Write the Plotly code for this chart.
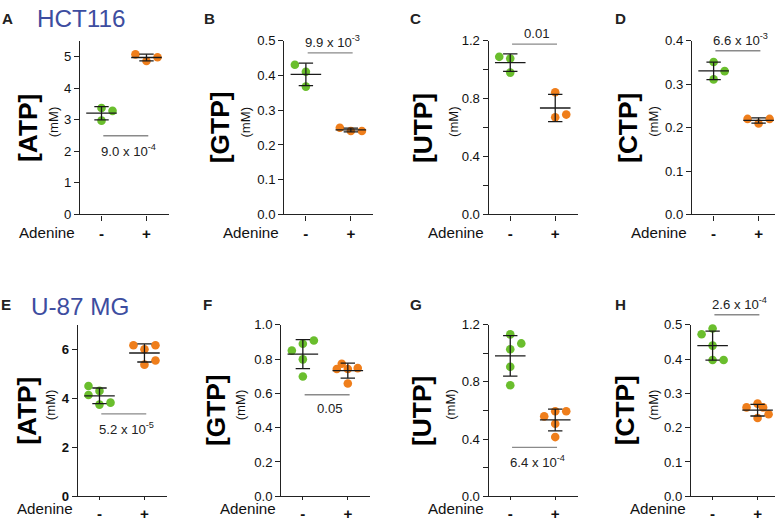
import numpy as np
import plotly.graph_objects as go

W, H = 775, 522
# visible extent of the figure in the photographed picture (measured), used to place panels
SX, SY = 766.0, 515.0
FS = W / SX  # font compensation

# ---------------- data (mM) ----------------
groups = ['-', '+']
treatment_label = 'Adenine'
cell_lines = ['HCT116', 'U-87 MG']
nucleotides = ['ATP', 'GTP', 'UTP', 'CTP', 'ATP', 'GTP', 'UTP', 'CTP']
panel_letters = ['A', 'B', 'C', 'D', 'E', 'F', 'G', 'H']

hct_atp_minus = [3.37, 3.28, 2.97]
hct_atp_plus = [5.07, 4.86, 4.98]
hct_gtp_minus = [0.431, 0.411, 0.368]
hct_gtp_plus = [0.2495, 0.240, 0.240]
hct_utp_minus = [1.089, 1.078, 0.980]
hct_utp_plus = [0.844, 0.690, 0.672]
hct_ctp_minus = [0.351, 0.330, 0.311]
hct_ctp_plus = [0.220, 0.220, 0.2095]

u87_atp_minus = [4.50, 4.30, 4.13, 3.74, 3.82]
u87_atp_plus = [6.16, 6.16, 6.00, 5.54, 5.37]
u87_gtp_minus = [0.849, 0.889, 0.908, 0.798, 0.698]
u87_gtp_plus = [0.772, 0.742, 0.742, 0.747, 0.657]
u87_utp_minus = [1.132, 1.069, 1.028, 0.906, 0.777]
u87_utp_plus = [0.559, 0.595, 0.595, 0.507, 0.414]
u87_ctp_minus = [0.472, 0.489, 0.439, 0.397, 0.397]
u87_ctp_plus = [0.259, 0.270, 0.259, 0.239, 0.228]

p_values = ['9.0 x 10<sup>-4</sup>', '9.9 x 10<sup>-3</sup>', '0.01', '6.6 x 10<sup>-3</sup>',
            '5.2 x 10<sup>-5</sup>', '0.05', '6.4 x 10<sup>-4</sup>', '2.6 x 10<sup>-4</sup>']

y_max = [5.5, 0.5, 1.2, 0.4, 7, 1.0, 1.2, 0.5]
y_tick_vals = [
    [0, 1, 2, 3, 4, 5],
    [0, 0.1, 0.2, 0.3, 0.4, 0.5],
    [0, 0.2, 0.4, 0.6, 0.8, 1.0, 1.2],
    [0, 0.1, 0.2, 0.3, 0.4],
    [0, 2, 4, 6],
    [0, 0.2, 0.4, 0.6, 0.8, 1.0],
    [0, 0.2, 0.4, 0.6, 0.8, 1.0, 1.2],
    [0, 0.1, 0.2, 0.3, 0.4, 0.5],
]
y_tick_text = [
    ['0', '1', '2', '3', '4', '5'],
    ['0.0', '0.1', '0.2', '0.3', '0.4', '0.5'],
    ['0.0', '', '0.4', '', '0.8', '', '1.2'],
    ['0.0', '0.1', '0.2', '0.3', '0.4'],
    ['0', '2', '4', '6'],
    ['0.0', '0.2', '0.4', '0.6', '0.8', '1.0'],
    ['0.0', '', '0.4', '', '0.8', '', '1.2'],
    ['0.0', '0.1', '0.2', '0.3', '0.4', '0.5'],
]

panel_data = [
    (hct_atp_minus, hct_atp_plus), (hct_gtp_minus, hct_gtp_plus),
    (hct_utp_minus, hct_utp_plus), (hct_ctp_minus, hct_ctp_plus),
    (u87_atp_minus, u87_atp_plus), (u87_gtp_minus, u87_gtp_plus),
    (u87_utp_minus, u87_utp_plus), (u87_ctp_minus, u87_ctp_plus),
]

# ---------------- layout / style (kept apart from data) ----------------
swarm_slots = [
    ([0, 1, 0], [-1, 0, 1]),
    ([-1, 0, 0], [-1, 0, 1]),
    ([-1, 0, 0], [0, 1, 0]),
    ([0, 1, 0], [-1, 1, 0]),
    ([-1, 0, -1, 0, 1], [-1, 1, 0, 1, 0]),
    ([-1, 0, 1, 0, 0], [-0.55, -1, 0, 0.9, 0]),
    ([0, 1, 0, 0, 0], [-1, 0, 1, 0, 0]),
    ([-1, 0, 0, 0, 1], [-1, 0, 0.5, 1, 0]),
]
slot_step = 0.245
sig_y = [2.49, 0.465, 1.177, 0.377, 3.36, 0.592, 0.342, 0.529]
sig_side = ['below', 'above', 'above', 'above', 'below', 'below', 'below', 'above']

colors = ['#6ABE2D', '#EF7E1B']
FONT = 'Liberation Sans, Arial, sans-serif'
AXC = '#222222'

x_left_px = [79, 281, 483, 684, 77, 278, 483, 683]
axis_w_px = 88
x_span = 1.98
rows_px = [(34.3, 210.7), (322.7, 497.0)]
row_ticklen = [5, 3]
title_x_px = [27, 217, 417.5, 620, 27, 214, 417.5, 618.5]
unit_x_px = [53, 243, 448, 646.5, 50, 238, 445, 646]
letter_x_px = [7, 207, 411, 613, 6, 205, 411, 613]
letter_y_px = [12, 12, 12, 12, 302, 302, 302, 302]
cell_line_pos_px = [(35, 12), (29, 304)]
xlabel_y_px = [229, 509]
ext_px = 40


def fs(v):
    return round(v * FS, 2)


def px_x(p):
    return min(1.0, max(0.0, p / SX))


def px_y(p):
    return min(1.0, max(0.0, 1 - p / SY))


fig = go.Figure()
layout = dict(
    width=W, height=H, margin=dict(l=0, r=0, t=0, b=0),
    paper_bgcolor='white', plot_bgcolor='rgba(0,0,0,0)', showlegend=False,
    font=dict(family=FONT, color='#111111'),
)
annotations = []
mean_hw = 0.34
cap_hw = 0.16

for i in range(8):
    n = i + 1
    sfx = '' if n == 1 else str(n)
    en = n + 8
    row = 0 if i < 4 else 1
    top, bot = rows_px[row]
    xl = x_left_px[i]
    w = min(axis_w_px, SX - xl)
    xr = [-0.48, -0.48 + x_span * w / axis_w_px]
    xdom = [px_x(xl), px_x(xl + w)]
    ydom = [px_y(bot), px_y(top)]
    bold_y = (i == 4)
    layout['xaxis' + sfx] = dict(
        domain=xdom, anchor='y' + sfx, range=xr, tickvals=[0, 1],
        ticktext=['<b>%s</b>' % g for g in groups], ticks='outside', ticklen=row_ticklen[row],
        tickwidth=1.2, tickcolor=AXC, showline=True, linecolor=AXC, linewidth=1.2,
        showgrid=False, zeroline=False, fixedrange=True,
        tickfont=dict(size=fs(15), color='#111111', family=FONT),
    )
    layout['yaxis' + sfx] = dict(
        domain=ydom, anchor='x' + sfx, range=[0, y_max[i]], tickvals=y_tick_vals[i],
        ticktext=['<b>%s</b>' % t if (bold_y and t) else t for t in y_tick_text[i]],
        ticks='outside', ticklen=5, tickwidth=1.2, tickcolor=AXC, showline=True,
        linecolor=AXC, linewidth=1.2, showgrid=False, zeroline=False, fixedrange=True,
        tickfont=dict(size=fs(13), color='#111111', family=FONT),
    )
    h_px = bot - top
    ext = min(ext_px, top - 1)
    layout['xaxis%d' % en] = dict(domain=xdom, anchor='y%d' % en, range=xr,
                                  visible=False, fixedrange=True)
    layout['yaxis%d' % en] = dict(domain=[px_y(bot), px_y(top - ext)], anchor='x%d' % en,
                                  range=[0, y_max[i] * (h_px + ext) / h_px],
                                  visible=False, fixedrange=True)

    xa, ya = 'x' + sfx, 'y' + sfx
    for g in range(2):
        vals = panel_data[i][g]
        xs = [g + s * slot_step for s in swarm_slots[i][g]]
        fig.add_trace(go.Scatter(x=xs, y=vals, mode='markers', xaxis=xa, yaxis=ya,
                                 marker=dict(size=fs(8.5), color=colors[g], line=dict(width=0)),
                                 cliponaxis=False, hoverinfo='skip'))
    for g in range(2):
        vals = np.array(panel_data[i][g])
        m = float(vals.mean())
        sd = float(vals.std(ddof=1))
        fig.add_trace(go.Scatter(
            x=[g - mean_hw, g + mean_hw, None, g, g, None, g - cap_hw, g + cap_hw, None, g - cap_hw, g + cap_hw],
            y=[m, m, None, m - sd, m + sd, None, m - sd, m - sd, None, m + sd, m + sd],
            mode='lines', line=dict(color='#1a1a1a', width=1.3), xaxis=xa, yaxis=ya,
            hoverinfo='skip', cliponaxis=False))
    fig.add_trace(go.Scatter(x=[0.04, 1.04], y=[sig_y[i], sig_y[i]], mode='lines',
                             line=dict(color='#8a8a8a', width=1.4),
                             xaxis='x%d' % en, yaxis='y%d' % en, hoverinfo='skip'))
    above = sig_side[i] == 'above'
    annotations.append(dict(
        x=0.6, y=sig_y[i], xref='x%d' % en, yref='y%d' % en, text=p_values[i],
        showarrow=False, xanchor='center', yanchor='bottom' if above else 'top',
        yshift=1 if above else -4, font=dict(size=fs(13), color='#222222', family=FONT)))

    mid = (top + bot) / 2
    annotations.append(dict(
        x=px_x(title_x_px[i]), y=px_y(mid), xref='paper', yref='paper',
        text='<b>[%s]</b>' % nucleotides[i], textangle=-90, showarrow=False,
        xanchor='center', yanchor='middle', font=dict(size=fs(26), color='#000000', family=FONT)))
    annotations.append(dict(
        x=px_x(unit_x_px[i]), y=px_y(mid - 6), xref='paper', yref='paper',
        text='(mM)', textangle=-90, showarrow=False,
        xanchor='center', yanchor='middle', font=dict(size=fs(13), color='#111111', family=FONT)))
    annotations.append(dict(
        x=px_x(xl - 3), y=px_y(xlabel_y_px[row]), xref='paper', yref='paper',
        text=treatment_label, showarrow=False, xanchor='right', yanchor='middle',
        font=dict(size=fs(15), color='#111111', family=FONT)))
    annotations.append(dict(
        x=px_x(letter_x_px[i]), y=px_y(letter_y_px[i]), xref='paper', yref='paper',
        text='<b>%s</b>' % panel_letters[i], showarrow=False, xanchor='center', yanchor='middle',
        font=dict(size=fs(15), color='#222222', family=FONT)))

for r, name in enumerate(cell_lines):
    cx, cy = cell_line_pos_px[r]
    annotations.append(dict(
        x=px_x(cx), y=px_y(cy), xref='paper', yref='paper', text=name, showarrow=False,
        xanchor='left', yanchor='middle', font=dict(size=fs(24), color='#3D4DA0', family=FONT)))

layout['annotations'] = annotations
fig.update_layout(**layout)

page_css = ("var s=document.createElement('style');"
            "s.innerHTML='html,body{margin:0!important;padding:0!important;overflow:hidden;}';"
            "document.head.appendChild(s);")
fig.write_html('out.html', config={'displayModeBar': False}, post_script=page_css)
